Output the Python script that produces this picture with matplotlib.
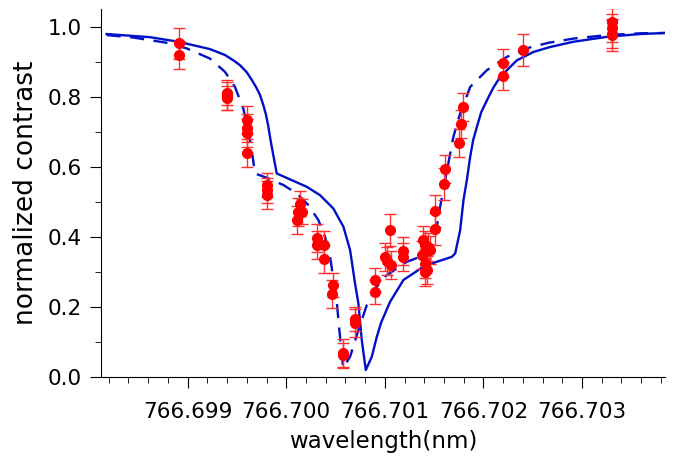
import matplotlib
matplotlib.use('Agg')
import matplotlib.pyplot as plt
from matplotlib.ticker import MultipleLocator, FormatStrFormatter

# solid model curve
solid_x = [766.698178, 766.698617, 766.698905, 766.699226, 766.699379, 766.699463,
           766.699531, 766.699599, 766.699653, 766.699701, 766.699734, 766.699768,
           766.699795, 766.699818, 766.699841, 766.699869, 766.699904, 766.700039,
           766.700208, 766.700343, 766.700478, 766.700580, 766.700648, 766.700698,
           766.700732, 766.700766, 766.700807, 766.700868, 766.700919, 766.700962,
           766.701054, 766.701189, 766.701392, 766.701528, 766.701680, 766.701714,
           766.701764, 766.701798, 766.701832, 766.701866, 766.701896, 766.701934,
           766.701978, 766.702036, 766.702099, 766.702171, 766.702340, 766.702509,
           766.702678, 766.702915, 766.703254, 766.703592, 766.703846]
solid_y = [0.979, 0.970, 0.957, 0.936, 0.919, 0.904,
           0.890, 0.870, 0.847, 0.824, 0.805, 0.776,
           0.748, 0.716, 0.676, 0.633, 0.581, 0.564,
           0.543, 0.519, 0.481, 0.429, 0.362, 0.267,
           0.210, 0.106, 0.020, 0.058, 0.115, 0.155,
           0.215, 0.277, 0.315, 0.329, 0.343, 0.353,
           0.419, 0.505, 0.562, 0.629, 0.676, 0.714,
           0.756, 0.790, 0.825, 0.857, 0.904, 0.928,
           0.942, 0.957, 0.971, 0.979, 0.982]

# dashed model curve
dash_x = [766.698178, 766.698448, 766.698787, 766.698990, 766.699226, 766.699379,
          766.699480, 766.699564, 766.699615, 766.699650, 766.699683, 766.699818,
          766.699971, 766.700107, 766.700224, 766.700326, 766.700394, 766.700445,
          766.700485, 766.700506, 766.700539, 766.700577, 766.700648, 766.700732,
          766.700817, 766.700919, 766.701020, 766.701223, 766.701426, 766.701477,
          766.701511, 766.701561, 766.701612, 766.701696, 766.701764, 766.701866,
          766.702036, 766.702239, 766.702475, 766.702661, 766.702915, 766.703254,
          766.703592, 766.703846]
dash_y = [0.976, 0.969, 0.954, 0.938, 0.909, 0.871,
          0.828, 0.767, 0.705, 0.648, 0.581, 0.567,
          0.548, 0.524, 0.491, 0.448, 0.400, 0.343,
          0.267, 0.235, 0.134, 0.026, 0.058, 0.134,
          0.205, 0.258, 0.291, 0.329, 0.350, 0.357,
          0.400, 0.486, 0.562, 0.686, 0.752, 0.828,
          0.876, 0.914, 0.941, 0.954, 0.966, 0.976,
          0.981, 0.982]

# measured points
meas_x = [766.698912, 766.698912, 766.699396, 766.699396, 766.699396, 766.699599,
          766.699599, 766.699599, 766.699599, 766.699802, 766.699802, 766.699802,
          766.700140, 766.700123, 766.700157, 766.700107, 766.700310, 766.700310,
          766.700379, 766.700379, 766.700470, 766.700462, 766.700580, 766.700580,
          766.700698, 766.700698, 766.700902, 766.700902, 766.701054, 766.701003,
          766.701026, 766.701061, 766.701189, 766.701189, 766.701392, 766.701409,
          766.701443, 766.701460, 766.701376, 766.701409, 766.701426, 766.701409,
          766.701504, 766.701504, 766.701612, 766.701605, 766.701757, 766.701774,
          766.701798, 766.702196, 766.702196, 766.702401, 766.703305, 766.703305,
          766.703305, 766.703305]
meas_y = [0.952, 0.920, 0.812, 0.803, 0.796, 0.733,
          0.710, 0.697, 0.640, 0.548, 0.533, 0.519,
          0.495, 0.472, 0.472, 0.448, 0.396, 0.377,
          0.377, 0.337, 0.262, 0.236, 0.068, 0.062,
          0.165, 0.155, 0.277, 0.243, 0.419, 0.342,
          0.330, 0.320, 0.360, 0.342, 0.391, 0.377,
          0.372, 0.362, 0.348, 0.324, 0.305, 0.300,
          0.474, 0.422, 0.595, 0.551, 0.668, 0.722,
          0.771, 0.895, 0.859, 0.933, 1.014, 0.995,
          0.980, 0.976]
meas_err = [0.043, 0.040, 0.035, 0.040, 0.035, 0.040,
            0.040, 0.040, 0.040, 0.035, 0.035, 0.040,
            0.035, 0.040, 0.035, 0.040, 0.040, 0.040,
            0.040, 0.040, 0.035, 0.040, 0.040, 0.035,
            0.035, 0.040, 0.035, 0.035, 0.045, 0.040,
            0.040, 0.040, 0.040, 0.040, 0.040, 0.040,
            0.040, 0.040, 0.040, 0.040, 0.040, 0.040,
            0.045, 0.045, 0.040, 0.045, 0.040, 0.040,
            0.040, 0.040, 0.040, 0.045, 0.040, 0.040,
            0.040, 0.045]

plt.rcParams['font.family'] = ['DejaVu Sans']

fig = plt.figure(figsize=(6.77, 4.57), dpi=100)
ax = fig.add_axes([0.149, 0.175, 0.833, 0.805])

ax.plot(solid_x, solid_y, color='#0010c8', lw=1.7)
ax.plot(dash_x, dash_y, color='#0010c8', lw=1.7, dashes=(6, 4))
ax.errorbar(meas_x, meas_y, yerr=meas_err, fmt='o', color='red', ms=7,
            ecolor='#ff3030', elinewidth=1, capsize=4.5, capthick=1)

ax.set_xlim(766.69812, 766.70384)
ax.set_ylim(0, 1.05)
ax.xaxis.set_major_locator(MultipleLocator(0.001))
ax.xaxis.set_minor_locator(MultipleLocator(0.0002))
ax.xaxis.set_major_formatter(FormatStrFormatter('%.3f'))
ax.yaxis.set_major_locator(MultipleLocator(0.2))
ax.yaxis.set_minor_locator(MultipleLocator(0.1))
ax.yaxis.set_major_formatter(FormatStrFormatter('%.1f'))

for s in ['top', 'right']:
    ax.spines[s].set_visible(False)
ax.tick_params(which='major', length=8, labelsize=15.5)
ax.tick_params(which='minor', length=4)
ax.tick_params(axis='x', pad=10)
ax.tick_params(axis='y', pad=6)

ax.set_xlabel('wavelength(nm)', fontsize=16.5, labelpad=6)
ax.set_ylabel('normalized contrast', fontsize=19, labelpad=6)

fig.savefig('out.png', dpi=100)
